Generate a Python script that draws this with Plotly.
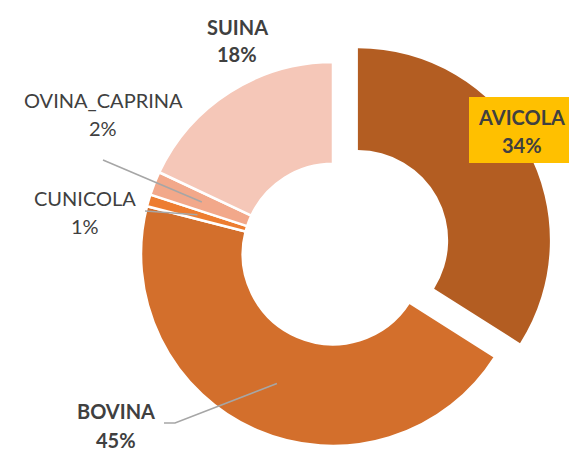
import math
import plotly.graph_objects as go

# ---- data ----
categories = ["AVICOLA", "BOVINA", "CUNICOLA", "OVINA_CAPRINA", "SUINA"]
values = [34, 45, 1, 2, 18]
pct_labels = ["34%", "45%", "1%", "2%", "18%"]
colors = ["#B35D22", "#D36F2C", "#ED7D31", "#F2A88A", "#F5C7B8"]
bold = [True, True, False, False, True]
exploded = "AVICOLA"
pull_frac = 0.148

# ---- layout constants ----
W, H = 577, 455
OX, OY = 8, 8          # page body margin offset
CX, CY, R = 333, 254, 192
HOLE = 0.47
TXT = "#404040"
LINE = "#A6A6A6"
FONT = "Lato"
FS = 20

# label line centres (px): (x, y_name, y_pct)
label_pos = {
    "AVICOLA": (521.5, 117, 145),
    "BOVINA": (116, 411, 440),
    "CUNICOLA": (85, 198, 226),
    "OVINA_CAPRINA": (103, 100, 128),
    "SUINA": (237, 27, 54),
}
ex_box = (469, 97, 574, 163)
leader_start = {
    "BOVINA": [(164, 423), (175, 423)],
    "CUNICOLA": [(145, 211)],
    "OVINA_CAPRINA": [(103, 160)],
}


def px(x):
    return (x - OX) / W


def py(y):
    return 1 - (y - OY) / H


def dom(cx, cy, r):
    return dict(x=[px(cx - r), px(cx + r)], y=[py(cy + r), py(cy - r)])


total = sum(values)
mid_angles = []
cum = 0
for v in values:
    mid_angles.append((cum + v / 2) / total * 2 * math.pi)
    cum += v

idx_ex = categories.index(exploded)
a_ex = mid_angles[idx_ex]
off = pull_frac * R
ex_cx = CX + off * math.sin(a_ex)
ex_cy = CY - off * math.cos(a_ex)

TRANSP = "rgba(0,0,0,0)"
main_colors = [TRANSP if c == exploded else col for c, col in zip(categories, colors)]
main_lw = [0 if c == exploded else 2.5 for c in categories]
ex_colors = [col if c == exploded else TRANSP for c, col in zip(categories, colors)]
ex_lw = [0 for c in categories]

common = dict(labels=categories, values=values, sort=False, direction="clockwise",
              rotation=0, hole=HOLE, textinfo="none", hoverinfo="label+percent",
              showlegend=False)

fig = go.Figure()
fig.add_trace(go.Pie(**common, domain=dom(CX, CY, R),
                     marker=dict(colors=main_colors, line=dict(color="white", width=main_lw))))
fig.add_trace(go.Pie(**common, domain=dom(ex_cx, ex_cy, R),
                     marker=dict(colors=ex_colors, line=dict(color="white", width=ex_lw))))

annotations = []
for c, p, b in zip(categories, pct_labels, bold):
    x, y1, y2 = label_pos[c]
    for t, yy in ((c, y1), (p, y2)):
        annotations.append(dict(
            x=px(x), y=py(yy), xref="paper", yref="paper",
            text=f"<b>{t}</b>" if b else t, showarrow=False,
            xanchor="center", yanchor="middle", align="center",
            font=dict(family=FONT, size=FS, color=TXT)))

shapes = [dict(type="rect", xref="paper", yref="paper",
               x0=px(ex_box[0]), x1=px(ex_box[2]), y0=py(ex_box[3]), y1=py(ex_box[1]),
               fillcolor="#FFC000", line=dict(width=0), layer="above")]
r_mid = (R + R * HOLE) / 2
for c, pts in leader_start.items():
    i = categories.index(c)
    ang = mid_angles[i]
    ax = CX + r_mid * math.sin(ang)
    ay = CY - r_mid * math.cos(ang)
    path_pts = pts + [(ax, ay)]
    path = "M " + " L ".join(f"{px(x):.5f},{py(y):.5f}" for x, y in path_pts)
    shapes.append(dict(type="path", path=path, xref="paper", yref="paper",
                       line=dict(color=LINE, width=1.5)))

fig.update_layout(width=W, height=H, margin=dict(l=0, r=0, t=0, b=0),
                  paper_bgcolor="white", plot_bgcolor="white",
                  annotations=annotations, shapes=shapes)

fig.write_html("out.html")
